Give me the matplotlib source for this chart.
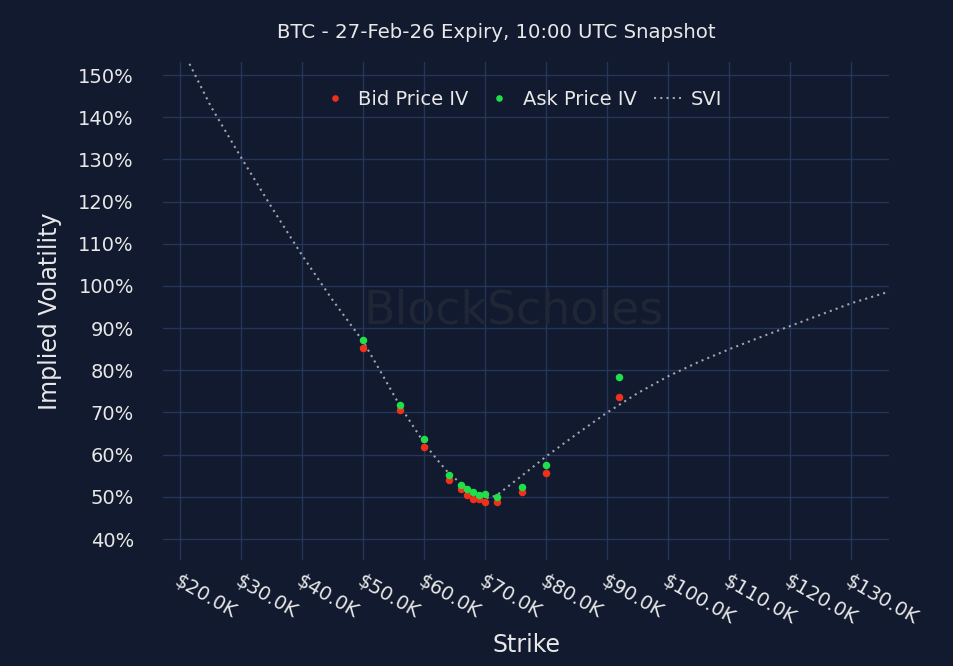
import matplotlib
matplotlib.use("Agg")
import matplotlib.pyplot as plt
from matplotlib.ticker import FuncFormatter

# Data (strike in $K, IV in %)
strikes = [50, 56, 60, 64, 66, 67, 68, 69, 70, 72, 76, 80, 92]
bid_iv = [85.2, 70.5, 61.8, 54.0, 51.8, 50.4, 49.5, 49.4, 48.8, 48.8, 51.1, 55.7, 73.6]
ask_iv = [87.2, 71.8, 63.8, 55.2, 52.8, 51.9, 51.2, 50.4, 50.7, 50.0, 52.4, 57.6, 78.3]

svi_strikes = [20.6, 25, 30, 35, 40, 45, 50, 53, 56, 60, 62, 64, 66, 68, 69, 70, 71, 72,
               76, 80, 85, 90, 95, 100, 105, 110, 115, 120, 125, 130, 136.3]
svi_iv = [155.3, 142.6, 130.4, 118.6, 107.2, 96.6, 86.8, 79.3, 71.6, 62.7, 59.0, 55.6, 53.2,
          51.1, 50.3, 49.7, 49.9, 50.5, 55.0, 59.6, 64.9, 70.0, 74.6, 78.6, 82.0, 85.0, 87.8,
          90.5, 93.2, 95.9, 98.7]

x_ticks = [20, 30, 40, 50, 60, 70, 80, 90, 100, 110, 120, 130]
y_ticks = [40, 50, 60, 70, 80, 90, 100, 110, 120, 130, 140, 150]

bg = "#111a2e"
grid_c = "#24365a"
text_c = "#e8e8e8"

fig = plt.figure(figsize=(9.54, 6.66), dpi=100, facecolor=bg)
ax = fig.add_axes([0.171, 0.159, 0.761, 0.748], facecolor=bg)

ax.plot(strikes, bid_iv, linestyle="none", marker="o", markersize=4.4,
        color="#f0301a", label="Bid Price IV", zorder=3)
ax.plot(strikes, ask_iv, linestyle="none", marker="o", markersize=4.4,
        color="#1fe04a", label="Ask Price IV", zorder=4)
ax.plot(svi_strikes, svi_iv, linestyle=(0, (1, 2)), linewidth=1.5, color="#a0a5ad",
        label="SVI", zorder=2)

ax.set_xlim(17.2, 136.2)
ax.set_ylim(35.0, 153.1)
ax.set_xticks(x_ticks)
ax.set_yticks(y_ticks)
ax.xaxis.set_major_formatter(FuncFormatter(lambda v, p: f"${v:.1f}K"))
ax.yaxis.set_major_formatter(FuncFormatter(lambda v, p: f"{v:.0f}%"))

ax.grid(True, color=grid_c, linewidth=1.0)
ax.set_axisbelow(True)
for s in ax.spines.values():
    s.set_visible(False)
ax.tick_params(axis="both", length=0, colors=text_c, labelsize=14)
ax.tick_params(axis="y", pad=21)
ax.tick_params(axis="x", pad=8)
for lab in ax.get_xticklabels():
    lab.set_rotation(-30)
    lab.set_ha("left")
    lab.set_va("top")
    lab.set_rotation_mode("anchor")

ax.set_xlabel("Strike", color=text_c, fontsize=17, labelpad=4)
ax.set_ylabel("Implied Volatility", color=text_c, fontsize=17, labelpad=12)
fig.text(0.52, 0.951, "BTC - 27-Feb-26 Expiry, 10:00 UTC Snapshot", color=text_c,
         fontsize=14.2, ha="center", va="center")

ax.text(0.482, 0.50, "BlockScholes", transform=ax.transAxes, fontsize=33, color="#1f2636",
        ha="center", va="center", zorder=1)

leg = ax.legend(loc="center", bbox_to_anchor=(0.494, 0.924), ncol=3, frameon=False,
                fontsize=14, labelcolor=text_c, handlelength=1.4, handletextpad=0.5,
                columnspacing=0.9, markerscale=0.85)

fig.savefig("out.png", dpi=100, facecolor=bg)
